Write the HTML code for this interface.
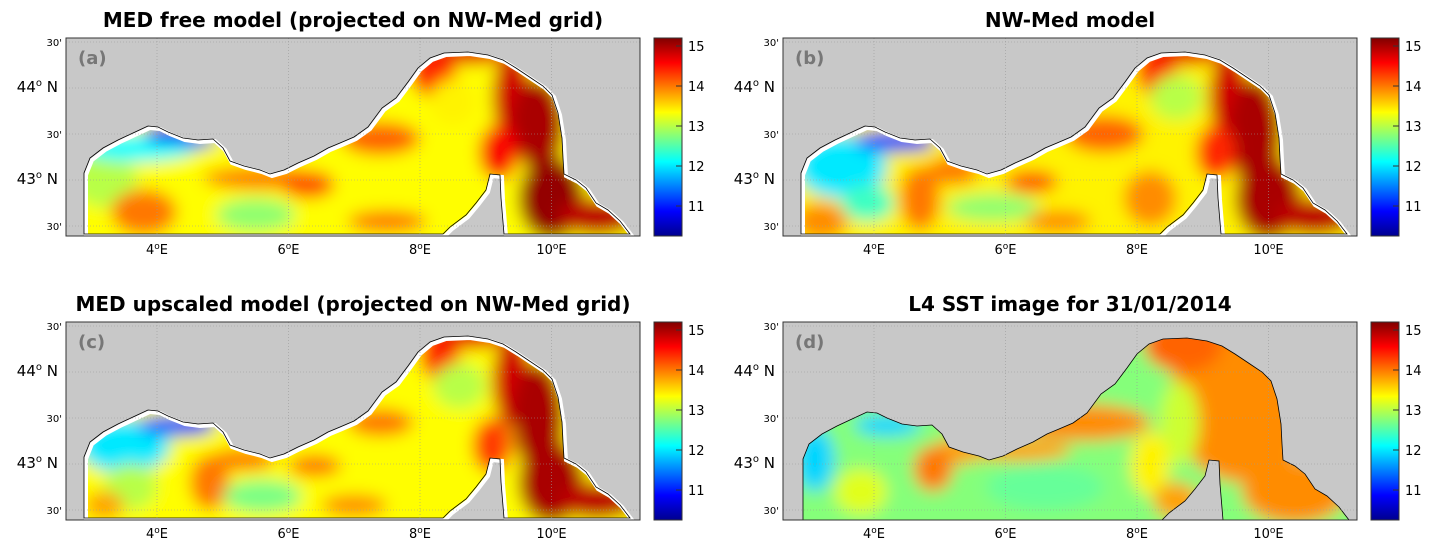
<!DOCTYPE html>
<html><head><meta charset="utf-8"><style>
body{margin:0;background:#fff;}
svg{display:block;font-family:"DejaVu Sans","Liberation Sans",sans-serif;}
</style></head><body>
<svg id="fig" width="1438" height="554" viewBox="0 0 1438 554">
<defs>
<filter id="blur" x="-20%" y="-20%" width="140%" height="140%"><feGaussianBlur stdDeviation="8"/></filter>
<linearGradient id="jet" x1="0" y1="1" x2="0" y2="0">
<stop offset="0" stop-color="#00008f"/><stop offset="0.125" stop-color="#0000ff"/><stop offset="0.375" stop-color="#00ffff"/><stop offset="0.625" stop-color="#ffff00"/><stop offset="0.875" stop-color="#ff0000"/><stop offset="1" stop-color="#800000"/>
</linearGradient>
</defs>
</svg>
<script>
// Colorbar / temperature scale
const cbarTicks = [11, 12, 13, 14, 15];
const tMin = 10.25, tMax = 15.2;
// Axis ticks
const lonTicks = [4, 6, 8, 10];
const latTicks = [42.5, 43, 43.5, 44, 44.5];
const latLabels = ["30'", "43\u00b0 N", "30'", "44\u00b0 N", "30'"];
const panelIds = ["a", "b", "c", "d"];
const titles = ["MED free model (projected on NW-Med grid)", "NW-Med model", "MED upscaled model (projected on NW-Med grid)", "L4 SST image for 31/01/2014"];
// base temperature per panel
const baseTemp = [13.35, 13.4, 13.35, 12.75];
// temperature blobs per panel: [lon, lat, rLon, rLat, temp]
const blobsA = [[3.2,43.0,0.5,0.3,13.0],[3.7,43.35,0.9,0.15,12.1],[4.2,43.5,0.4,0.1,10.8],[4.6,43.42,0.3,0.08,11.4],[3.8,42.65,0.5,0.25,14.0],[5.6,43.02,0.9,0.12,14.0],[6.3,42.95,0.4,0.15,14.2],[5.5,42.62,0.6,0.18,12.8],[7.5,42.55,0.6,0.12,14.0],[7.4,43.45,0.6,0.18,14.1],[8.2,44.2,0.35,0.3,14.4],[8.8,44.4,0.5,0.15,14.7],[8.5,43.85,0.35,0.25,13.4],[9.4,43.9,0.3,0.5,14.8],[9.8,43.6,0.4,0.5,15.0],[10.0,42.8,0.5,0.45,15.1],[10.7,42.6,0.6,0.2,14.9],[10.35,44.0,0.12,0.25,12.3],[9.2,43.3,0.3,0.3,14.6]];
const blobsB = [[3.5,43.15,0.7,0.35,12.0],[4.3,43.42,0.6,0.12,11.2],[4.7,43.42,0.2,0.1,10.9],[3.9,42.75,0.4,0.2,12.4],[3.2,42.55,0.4,0.2,13.9],[4.7,42.8,0.3,0.35,14.0],[5.2,43.1,0.4,0.15,14.0],[5.8,42.7,0.7,0.15,12.8],[6.4,42.98,0.4,0.12,14.2],[6.8,42.55,0.5,0.12,13.9],[7.5,43.5,0.6,0.2,14.1],[8.2,42.8,0.4,0.3,13.9],[8.3,44.2,0.3,0.3,14.4],[8.8,44.4,0.5,0.15,14.7],[8.6,43.9,0.4,0.25,13.0],[9.4,43.9,0.3,0.5,14.8],[9.8,43.5,0.4,0.6,15.0],[10.0,42.8,0.5,0.45,15.0],[10.7,42.6,0.6,0.2,14.9],[10.35,44.0,0.12,0.2,12.4],[9.2,43.3,0.3,0.3,14.4]];
const blobsC = [[3.5,43.2,0.7,0.3,12.0],[4.3,43.42,0.6,0.12,11.3],[4.6,43.45,0.2,0.1,10.9],[3.6,42.75,0.4,0.25,13.0],[3.2,42.55,0.3,0.15,13.8],[4.8,42.8,0.3,0.3,14.0],[5.3,43.05,0.5,0.12,14.0],[5.6,42.65,0.6,0.18,12.7],[6.4,42.98,0.4,0.12,14.0],[7.0,42.55,0.5,0.12,13.9],[7.4,43.45,0.5,0.15,14.0],[8.3,44.2,0.3,0.3,14.4],[8.8,44.4,0.5,0.15,14.7],[8.6,43.85,0.4,0.25,13.0],[9.4,43.9,0.3,0.5,14.8],[9.8,43.5,0.4,0.6,15.0],[10.0,42.8,0.5,0.45,15.0],[10.7,42.6,0.6,0.2,14.9],[10.35,44.0,0.12,0.2,12.5],[9.1,43.2,0.3,0.3,14.3]];
const blobsD = [[9.6,43.7,1.1,0.9,13.9],[8.7,44.3,0.6,0.3,14.1],[10.4,42.7,0.8,0.35,13.9],[8.65,43.45,0.3,0.45,13.1],[8.2,43.0,0.3,0.35,13.4],[7.2,43.45,1.0,0.2,13.9],[6.2,43.15,0.8,0.12,13.8],[5.3,43.15,0.4,0.15,13.8],[4.9,42.95,0.3,0.25,14.0],[3.1,43.05,0.3,0.35,11.9],[4.2,43.42,0.5,0.12,11.9],[3.8,42.7,0.4,0.25,13.2],[6.6,42.75,0.9,0.25,12.6],[8.6,42.6,0.35,0.2,13.8],[10.35,44.0,0.1,0.15,13.2]];
const allBlobs = [blobsA, blobsB, blobsC, blobsD];

const NS = "http://www.w3.org/2000/svg";
const svg = document.getElementById("fig");
function mk(tag, attrs, parent){const e=document.createElementNS(NS,tag);for(const k in attrs)e.setAttribute(k,attrs[k]);(parent||svg).appendChild(e);return e;}
function jet(t){const v=(t-tMin)/(tMax-tMin);const c=x=>Math.round(255*Math.max(0,Math.min(1,1.5-Math.abs(4*v-x))));return `rgb(${c(3)},${c(2)},${c(1)})`;}

const offsets = [[0,0],[717,0],[0,284],[717,284]];
const AX = {x:66, y:38, w:574, h:198};
const xOf = lon => 157 + (lon-4)*65.75;
const yOf = lat => 180 - (lat-43)*92;
// coastline (sea outline) in panel-a pixel coords
const sea = "86,236 86,175 92,160 105,150 120,142 135,135 150,128 160,129 170,134 185,140 200,142 215,141 225,150 232,163 246,168 262,172 272,176 286,172 300,165 316,158 330,150 342,145 356,139 370,129 384,110 398,100 410,84 420,70 432,60 446,55 470,54 490,57 505,62 518,70 530,78 545,88 554,97 560,115 564,140 565,160 566,176 578,182 588,190 598,205 610,212 622,223 632,236 506,236 503,200 502,177 492,176 488,192 478,205 468,217 452,229 445,236";

offsets.forEach((o,i)=>{
  const g = mk("g",{transform:`translate(${o[0]},${o[1]})`});
  
  
  const title = mk("text",{x:AX.x+AX.w/2,y:AX.y-11,"text-anchor":"middle","font-size":"20","font-weight":"bold",fill:"#000"},g);
  title.textContent = titles[i];
  
  
  const bg = mk("rect",{x:AX.x,y:AX.y,width:AX.w,height:AX.h,fill:"#c8c8c8"},g);
  
  
  const cid = "clip"+i;
  const cp = mk("clipPath",{id:cid},g);
  mk("polygon",{points:sea},cp);
  const seaG = mk("g",{"clip-path":`url(#${cid})`},g);
  
  
  const inner = mk("g",{filter:"url(#blur)"},seaG);
  mk("rect",{x:AX.x-60,y:AX.y-60,width:AX.w+120,height:AX.h+120,fill:jet(baseTemp[i])},inner);
  allBlobs[i].forEach(b=>{
    const e = mk("ellipse",{cx:xOf(b[0]),cy:yOf(b[1]),rx:b[2]*65.75,ry:b[3]*92,fill:jet(b[4])},inner);
    
    
  });
  if(i!=3){
    const wc = mk("polygon",{points:sea,fill:"none",stroke:"#fff","stroke-width":4},g);
    
    
  }
  const coast = mk("polygon",{points:sea,fill:"none",stroke:"#000","stroke-width":0.8,transform:i==3?"":"translate(-2,-2)"},g);
  
  
  mk("rect",{x:AX.x,y:AX.y+AX.h,width:AX.w,height:4,fill:"#fff"},g);
  lonTicks.forEach(l=>{
    const x=xOf(l);
    mk("line",{x1:x,y1:AX.y,x2:x,y2:AX.y+AX.h,stroke:"#999","stroke-width":0.6,"stroke-dasharray":"1,2"},g);
    const t=mk("text",{x:x,y:AX.y+AX.h+18,"text-anchor":"middle","font-size":"13",fill:"#000"},g);
    t.innerHTML=l+'<tspan dy="-5" font-size="9">o</tspan><tspan dy="5">E</tspan>';
    
    
  });
  latTicks.forEach((l,k)=>{
    const y=yOf(l);
    mk("line",{x1:AX.x,y1:y,x2:AX.x+AX.w,y2:y,stroke:"#999","stroke-width":0.6,"stroke-dasharray":"1,2"},g);
    const t=mk("text",{x:AX.x-4,y:y+4,"text-anchor":"end","font-size":latLabels[k].length>3?"15":"10",fill:"#000"},g);
    if(latLabels[k].length>3){t.innerHTML=Math.floor(l)+'<tspan dy="-6" font-size="10">o</tspan><tspan dy="6">  N</tspan>';t.setAttribute("x",AX.x-8);}
    else t.textContent=latLabels[k];
    
    
  });
  const fr = mk("rect",{x:AX.x,y:AX.y,width:AX.w,height:AX.h,fill:"none",stroke:"#333","stroke-width":1},g);
  
  
  const pl = mk("text",{x:78,y:AX.y+26,"font-size":"18","font-weight":"bold",fill:"#777"},g);
  pl.textContent = "("+panelIds[i]+")";
  
  
  const cb = mk("rect",{x:654,y:AX.y,width:28,height:AX.h,fill:"url(#jet)",stroke:"#333","stroke-width":1},g);
  
  
  cbarTicks.forEach(v=>{
    const y = AX.y + AX.h - (v-tMin)/(tMax-tMin)*AX.h;
    mk("line",{x1:676,y1:y,x2:682,y2:y,stroke:"#333"},g);
    const t=mk("text",{x:688,y:y+5,"font-size":"13",fill:"#000"},g);
    t.textContent=v;
    
    
  });
});
</script>
</body></html>
